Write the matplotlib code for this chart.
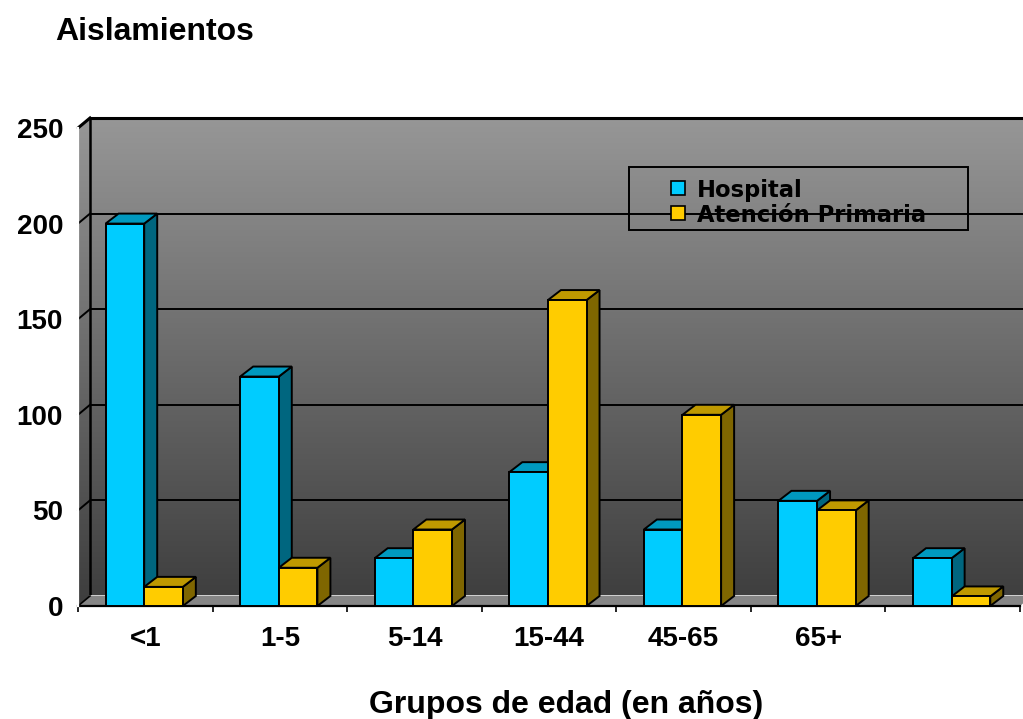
import numpy as np
import matplotlib
matplotlib.use("Agg")
import matplotlib.pyplot as plt
from matplotlib.patches import Polygon, Rectangle

plt.rcParams['font.family'] = ['Liberation Sans', 'DejaVu Sans']
plt.rcParams['font.weight'] = 'bold'

# Data
grupos = ["<1", "1-5", "5-14", "15-44", "45-65", "65+", ""]
hospital = [200, 120, 25, 70, 40, 55, 25]
primaria = [10, 20, 40, 160, 100, 50, 5]
series_names = ["Hospital", "Atención Primaria"]

# colours: front, top, side
c_hosp = ("#00ccff", "#0099bf", "#00667f")
c_prim = ("#ffcc00", "#bf9900", "#7f6600")

W, H = 1023, 719
fig = plt.figure(figsize=(W / 100, H / 100), dpi=100)

# front plane of the plot in pixels, plus the depth of the walls
x0, x1 = 78, 1020
y0, y1 = 606, 128
ddx, ddy = 12, 10
ncat = len(grupos)
ymax = 250
px_x = (x1 - x0) / ncat
px_y = (y0 - y1) / ymax
# depth offsets in data units
wdx, wdy = ddx / px_x, ddy / px_y
bdx, bdy = 13 / px_x, 10 / px_y

ax = fig.add_axes([x0 / W, (H - y0) / H, (x1 + ddx - x0) / W, (y0 - y1 + ddy) / H])

# back wall + side wall with a vertical gradient
wall = Polygon([(0, 0), (0, ymax), (wdx, ymax + wdy), (ncat + wdx, ymax + wdy),
                (ncat + wdx, wdy), (wdx, wdy)], closed=True,
               facecolor="none", edgecolor="none")
ax.add_patch(wall)
grad = np.linspace(0, 1, 256)
top_c = np.array([0.59, 0.59, 0.59])
bot_c = np.array([0.24, 0.24, 0.24])
img = (top_c[None, :] * (1 - grad[:, None]) + bot_c[None, :] * grad[:, None]).reshape(256, 1, 3)
im = ax.imshow(img, extent=(0, ncat + wdx, 0, ymax + wdy), aspect="auto",
               origin="upper", zorder=0)
im.set_clip_path(wall)
ax.set_xlim(0, ncat + wdx)
ax.set_ylim(0, ymax + wdy)

# gridlines on back and side walls
for v in range(50, ymax + 1, 50):
    lw = 2.2 if v == ymax else 1.4
    ax.plot([wdx, ncat + wdx], [v + wdy, v + wdy], color="black", lw=lw,
            zorder=1, clip_on=False, solid_capstyle="butt")
    ax.plot([0, wdx], [v, v + wdy], color="black", lw=lw, zorder=1, clip_on=False)
ax.plot([wdx, wdx], [wdy, ymax + wdy], color="black", lw=1.8, zorder=1, clip_on=False)
ax.plot([wdx, ncat + wdx], [wdy, wdy], color="white", lw=1.8, zorder=1, clip_on=False)

# floor
floor = Polygon([(0, 0), (ncat, 0), (ncat + wdx, wdy), (wdx, wdy)], closed=True,
                facecolor="#858585", edgecolor="none", zorder=2, clip_on=False)
ax.add_patch(floor)
ax.plot([0, wdx], [0, wdy], color="black", lw=1.2, zorder=2, clip_on=False)
ax.plot([0, ncat], [0, 0], color="black", lw=1.6, zorder=2, clip_on=False)
ax.plot([0, 0], [0, ymax], color="white", lw=1.6, zorder=2, clip_on=False)

# bars drawn as boxes
bw = 0.287
for i in range(ncat):
    for s, (vals, cols) in enumerate([(hospital, c_hosp), (primaria, c_prim)]):
        x = i + 0.205 + s * bw
        h = vals[i]
        z = 3 + 0.01 * i + 0.001 * s
        front = Rectangle((x, 0), bw, h, facecolor=cols[0], edgecolor="black",
                          lw=1.4, zorder=z, clip_on=False)
        topf = Polygon([(x, h), (x + bw, h), (x + bw + bdx, h + bdy), (x + bdx, h + bdy)],
                       closed=True, facecolor=cols[1], edgecolor="black", lw=1.4,
                       zorder=z, clip_on=False)
        side = Polygon([(x + bw, 0), (x + bw + bdx, bdy), (x + bw + bdx, h + bdy), (x + bw, h)],
                       closed=True, facecolor=cols[2], edgecolor="black", lw=1.4,
                       zorder=z, clip_on=False)
        ax.add_patch(side)
        ax.add_patch(topf)
        ax.add_patch(front)

# axes and ticks
for sp in ax.spines.values():
    sp.set_visible(False)
ax.set_xticks(np.arange(ncat) + 0.5)
ax.set_xticklabels(grupos)
ax.set_xticks(np.arange(ncat + 1), minor=True)
ax.tick_params(axis="x", which="major", length=0, pad=14.5, labelsize=20)
ax.tick_params(axis="x", which="minor", length=4.5, width=1.2, color="black")
ax.set_yticks(range(0, ymax + 1, 50))
ax.tick_params(axis="y", length=2, width=1.2, color="white", pad=8.8, labelsize=20)

# legend box
lx0, ly0, lx1, ly1 = 629, 167, 968, 230
fig.patches.append(Rectangle((lx0 / W, 1 - ly1 / H), (lx1 - lx0) / W, (ly1 - ly0) / H,
                             transform=fig.transFigure, facecolor="none",
                             edgecolor="black", lw=1.4, zorder=5))
for k, (name, col) in enumerate(zip(series_names, [c_hosp[0], c_prim[0]])):
    yc = 188 + 25 * k
    fig.patches.append(Rectangle((671 / W, 1 - (yc + 7) / H), 14 / W, 14 / H,
                                 transform=fig.transFigure, facecolor=col,
                                 edgecolor="black", lw=1.2, zorder=5))
    fig.text(697 / W, 1 - (yc + 9) / H, name, fontsize=16.3, fontweight="bold",
             family="DejaVu Sans", va="baseline", ha="left", zorder=6)

fig.text(55 / W, 1 - 40 / H, "Aislamientos", fontsize=23, fontweight="bold",
         va="baseline", ha="left")
fig.text(566 / W, 1 - 713 / H, "Grupos de edad (en años)", fontsize=23,
         fontweight="bold", va="baseline", ha="center")

fig.savefig("out.png", dpi=100, facecolor="white")
